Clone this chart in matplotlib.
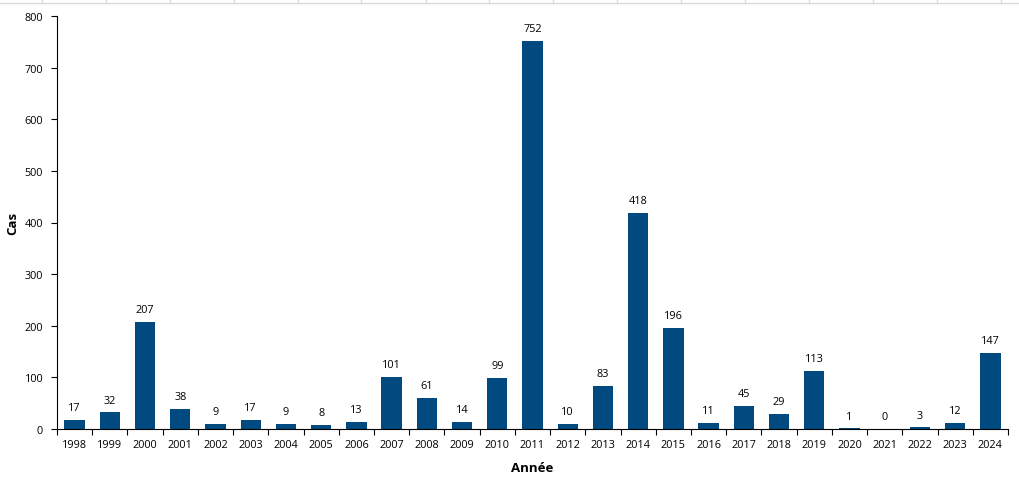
import matplotlib
matplotlib.use("Agg")
import matplotlib.pyplot as plt
from matplotlib.lines import Line2D
import numpy as np

years = [str(y) for y in range(1998, 2025)]
cases = [17, 32, 207, 38, 9, 17, 9, 8, 13, 101, 61, 14, 99, 752, 10, 83, 418, 196, 11, 45, 29, 113, 1, 0, 3, 12, 147]
y_ticks = [0, 100, 200, 300, 400, 500, 600, 700, 800]

plt.rcParams['font.family'] = ['Open Sans', 'DejaVu Sans']

W, H = 1019, 481
fig = plt.figure(figsize=(W/100, H/100), dpi=100)
ax = fig.add_axes([57/W, (H-430)/H, (1008-57)/W, (430-17)/H])

x = np.arange(len(years))
ax.bar(x, cases, width=0.58, color='#004A80', zorder=2)
for xi, v in zip(x, cases):
    ax.annotate(str(v), (xi, v), xytext=(0, 5), textcoords='offset points',
                ha='center', va='bottom', fontsize=7.8, color='black')

ax.set_xlim(-0.5, len(years) - 0.5)
ax.set_ylim(0, 800)
ax.set_yticks(y_ticks)
ax.set_yticklabels([str(t) for t in y_ticks], fontsize=7.8)
ax.set_xticks(x)
ax.set_xticklabels(years, fontsize=7.8)
ax.set_xticks(np.arange(len(years) + 1) - 0.5, minor=True)
ax.tick_params(axis='x', which='major', length=0, pad=7)
ax.tick_params(axis='x', which='minor', length=4, direction='out', width=0.8)
ax.tick_params(axis='y', length=4, direction='out', width=0.8, pad=6)

for s in ['top', 'right']:
    ax.spines[s].set_visible(False)
for s in ['left', 'bottom']:
    ax.spines[s].set_linewidth(0.8)

ax.set_xlabel('Année', fontsize=9.5, fontweight='bold', labelpad=8)
ax.set_ylabel('Cas', fontsize=9.5, fontweight='bold', labelpad=4)

# faint spreadsheet gridlines at the top
fig.add_artist(Line2D([0, 1], [1 - 3.5/H, 1 - 3.5/H], transform=fig.transFigure, color='#d9d9d9', lw=1))
for gx in [41.6, 106, 170, 234, 298, 361, 426, 489, 553, 617, 681, 745, 809, 873, 937, 1001]:
    fig.add_artist(Line2D([gx/W, gx/W], [1 - 3.5/H, 1], transform=fig.transFigure, color='#d9d9d9', lw=1))

fig.savefig('out.png', dpi=100)
